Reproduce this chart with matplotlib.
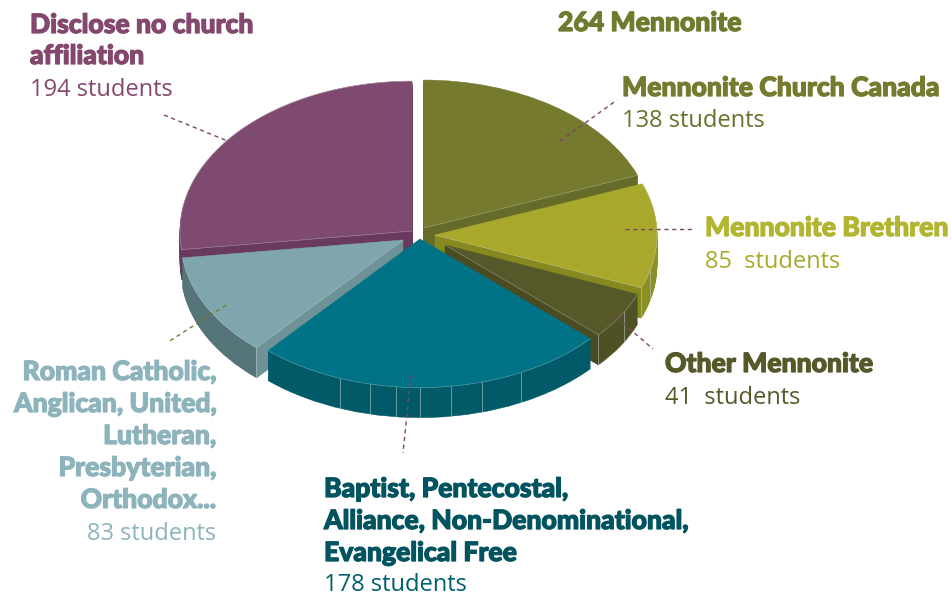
import matplotlib
matplotlib.use('Agg')
import matplotlib.pyplot as plt
import matplotlib.patheffects as pe
from matplotlib.patches import Polygon
import numpy as np

# student counts, clockwise from 12 o'clock
groups = ['Mennonite Church Canada', 'Mennonite Brethren', 'Other Mennonite',
          'Baptist etc', 'Roman Catholic etc', 'Disclose no church affiliation']
students = [138, 85, 41, 178, 83, 194]

top_cols = ['#757a2f', '#a8a92c', '#57582a', '#007486', '#7fa6ad', '#7f4a70']
rim_cols = ['#666b2a', '#8c8f24', '#4f5024', '#005a68', '#55747a', '#693a5d']
cut_cols = ['#666b2a', '#85891f', '#4a4b22', '#005a68', '#6f9299', '#693a5d']
cut_side = ['end', 'end', 'end', None, 'start', 'start']

# layout of each slice, in pixels
cx = [423.5, 435, 445, 420, 403, 412]
cy = [228, 235, 245, 239, 240, 231]
rx = [229, 222, 207, 230, 222, 232]
draw_order = [0, 5, 1, 4, 2, 3]
squash = 0.646
depth = 30

facets = {1: [-21.7, -14], 2: [-42.2, -30], 3: [-110.4, -102.5, -96, -90, -82.2, -74.3, -64],
          4: [-131.3]}

H = 596.0


def Y(py):
    return (H - py) / squash


fig = plt.figure(figsize=(9.52, 5.96), dpi=100)
ax = fig.add_axes([0, 0, 1, 1])

# extruded side, one pie per pixel of depth
for d in range(depth, -1, -1):
    wedges = ax.pie(students, startangle=90, counterclock=False, radius=1)[0]
    for i, w in enumerate(wedges):
        w.set_center((cx[i], Y(cy[i] + d)))
        w.set_radius(rx[i])
        w.set_zorder(draw_order.index(i) * 10 + 1 + (depth - d) * 0.01)
        w.set_linewidth(0.4)
        if d == 0:
            w.set_facecolor(top_cols[i])
            w.set_edgecolor(top_cols[i])
            w.set_zorder(draw_order.index(i) * 10 + 5)
        else:
            w.set_facecolor(rim_cols[i])
            w.set_edgecolor(rim_cols[i])

ax.set_aspect('auto')
ax.set_xlim(0, 952)
ax.set_ylim(0, H / squash)
ax.axis('off')

edges = 90 - np.cumsum([0] + students) / sum(students) * 360
for i in range(len(students)):
    z = draw_order.index(i) * 10
    a1, a2 = edges[i], edges[i + 1]
    ang = np.radians(np.linspace(a1, a2, 80))
    # light line along the outer rim
    if a2 < 0 and a1 < 45:
        ax.plot(cx[i] + rx[i] * np.cos(ang), Y(cy[i]) + rx[i] * np.sin(ang),
                color='#d8dcd8', lw=0.4, alpha=0.5, zorder=z + 6)
    # inner cut face
    if cut_side[i]:
        a = np.radians(a2 if cut_side[i] == 'end' else a1)
        ex = cx[i] + rx[i] * np.cos(a)
        ey = Y(cy[i]) + rx[i] * np.sin(a)
        pts = [(cx[i], Y(cy[i])), (ex, ey), (ex, ey - depth / squash),
               (cx[i], Y(cy[i]) - depth / squash)]
        ax.add_patch(Polygon(pts, closed=True, fc=cut_cols[i], ec=cut_cols[i], lw=0.3, zorder=z + 4))
        ax.plot([cx[i], ex], [Y(cy[i]), ey], color='#d8dcd8', lw=0.4, alpha=0.5, zorder=z + 6)
    # vertical seams on the side
    for f in facets.get(i, []):
        a = np.radians(f)
        ex = cx[i] + rx[i] * np.cos(a)
        ey = Y(cy[i]) + rx[i] * np.sin(a)
        ax.plot([ex, ex], [ey, ey - depth / squash], color='#c8d4d4', lw=0.6, alpha=0.6, zorder=z + 4.5)


def leader(x0, y0, x1, y1, col):
    ax.plot([x0, x1], [Y(y0), Y(y1)], color=col, lw=1.0, ls=(0, (3, 2.6)), zorder=100)


pl = '#7d4468'
leader(164, 115, 230, 142, pl)
leader(560, 141, 617, 100, pl)
leader(625, 229, 695, 229, pl)
leader(617, 318, 653, 349, pl)
leader(411, 375, 403, 453, pl)
leader(226, 305, 168, 342, '#757a2f')

HEAD = dict(family=['Lato', 'DejaVu Sans'], fontweight='black', fontsize=19.1, va='baseline', zorder=110)
BODY = dict(family=['Open Sans', 'DejaVu Sans'], fontsize=17.0, va='baseline', zorder=110)


def head(x, py, s, col, ha='left'):
    t = ax.text(x, Y(py), s, color=col, ha=ha, **HEAD)
    # the original face is heavier than the installed one
    t.set_path_effects([pe.withStroke(linewidth=0.9, foreground=col)])


def body(x, py, s, col, ha='left'):
    ax.text(x, Y(py), s, color=col, ha=ha, **BODY)


head(558, 31, '264 Mennonite', '#6f7a2e')
head(622, 96, 'Mennonite Church Canada', '#757a2f')
body(622, 127, '138 students', '#6b702c')
head(705, 236, 'Mennonite Brethren', '#b2b531')
body(705, 268, '85  students', '#a8a92c')
head(665, 372, 'Other Mennonite', '#57582a')
body(665, 404, '41  students', '#57582a')
head(324, 497, 'Baptist, Pentecostal,', '#00535f')
head(324, 529, 'Alliance, Non-Denominational,', '#00535f')
head(324, 561, 'Evangelical Free', '#00535f')
body(324, 591, '178 students', '#00606e')
for py, s in zip([380, 412, 444, 476, 508],
                 ['Roman Catholic,', 'Anglican, United,', 'Lutheran,', 'Presbyterian,', 'Orthodox...']):
    head(216, py, s, '#8db4bc', ha='right')
body(216, 540, '83 students', '#8db4bc', ha='right')
head(30, 33, 'Disclose no church', '#84486f')
head(30, 64, 'affiliation', '#84486f')
body(30, 96, '194 students', '#84486f')

fig.savefig('out.png', dpi=100)
